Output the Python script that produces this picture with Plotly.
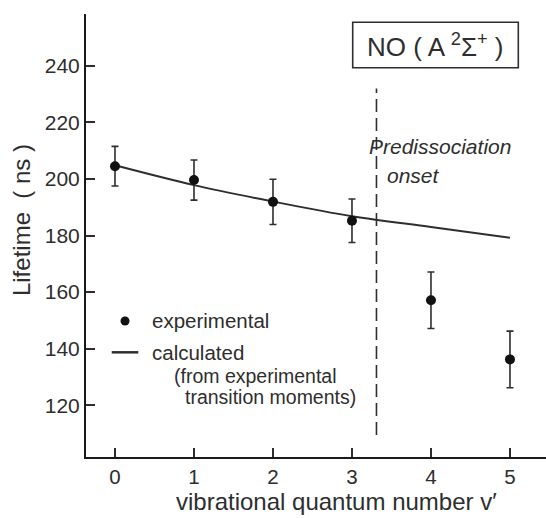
import plotly.graph_objects as go

# Vibrational levels of NO(A 2Sigma+) and radiative lifetimes (ns)
v_levels = [0, 1, 2, 3, 4, 5]
lifetime_exp = [204.5, 199.6, 191.9, 185.2, 157.1, 136.2]
lifetime_err = [7.0, 7.1, 8.0, 7.7, 10.0, 10.0]
lifetime_calc = [204.8, 197.8, 192.0, 186.8, 183.0, 179.2]
predissociation_v = 3.31
x_ticks = [0, 1, 2, 3, 4, 5]
y_ticks = [120, 140, 160, 180, 200, 220, 240]

FONT = "Liberation Sans, Arial, sans-serif"
INK = "#2e2e2e"

fig = go.Figure()

fig.add_trace(go.Scatter(
    x=v_levels, y=lifetime_calc, mode="lines",
    line=dict(color=INK, width=2, shape="spline"),
    name="calculated", showlegend=False,
))

fig.add_trace(go.Scatter(
    x=v_levels, y=lifetime_exp, mode="markers",
    marker=dict(color="#111111", size=10),
    error_y=dict(type="data", array=lifetime_err, visible=True,
                 color=INK, thickness=1.6, width=3.5),
    name="experimental", showlegend=False,
))

# Predissociation onset marker
fig.add_shape(type="line", xref="x", yref="y",
              x0=predissociation_v, x1=predissociation_v, y0=109.5, y1=232,
              line=dict(color=INK, width=1.6, dash="13px,6px"))

# Species label box
fig.add_shape(type="rect", xref="paper", yref="paper",
              x0=0.5798, x1=0.9398, y0=0.8788, y1=0.9813,
              line=dict(color=INK, width=1.6))
fig.add_annotation(xref="paper", yref="paper", x=0.7598, y=0.930,
                   text="NO ( A <sup>2</sup>Σ<sup>+</sup> )", showarrow=False,
                   font=dict(family=FONT, size=26, color=INK),
                   xanchor="center", yanchor="middle")

fig.add_annotation(xref="x", yref="y", x=3.184, y=211.4,
                   text="<i>Predissociation</i>", showarrow=False,
                   font=dict(family=FONT, size=21, color=INK),
                   xanchor="left", yanchor="middle")
fig.add_annotation(xref="x", yref="y", x=3.418, y=201.3,
                   text="<i>onset</i>", showarrow=False,
                   font=dict(family=FONT, size=21, color=INK),
                   xanchor="left", yanchor="middle")

# Key
fig.add_shape(type="circle", xref="paper", yref="paper",
              xsizemode="pixel", ysizemode="pixel",
              xanchor=0.0848, yanchor=0.307, x0=-4.5, x1=4.5, y0=-4.5, y1=4.5,
              fillcolor="#111111", line=dict(width=0))
fig.add_shape(type="line", xref="paper", yref="paper",
              x0=0.0559, x1=0.1137, y0=0.2363, y1=0.2363,
              line=dict(color=INK, width=2.5))
key_text = [
    ("experimental", 0.139, 0.307, 20.5),
    ("calculated", 0.139, 0.2363, 20.5),
    ("(from experimental", 0.1863, 0.1835, 19.5),
    ("transition moments)", 0.2102, 0.1348, 19.5),
]
for txt, kx, ky, ks in key_text:
    fig.add_annotation(xref="paper", yref="paper", x=kx, y=ky, text=txt,
                       showarrow=False, xanchor="left", yanchor="middle",
                       font=dict(family=FONT, size=ks, color=INK))

# Axis titles, placed as free text
fig.add_annotation(xref="paper", yref="paper", x=0.5435, y=-0.101,
                   text="vibrational quantum number v′", showarrow=False,
                   xanchor="center", yanchor="middle",
                   font=dict(family=FONT, size=24, color=INK))
fig.add_annotation(xref="paper", yref="paper", x=-0.139, y=0.535,
                   text="Lifetime  ( ns )", showarrow=False, textangle=-90,
                   xanchor="center", yanchor="middle",
                   font=dict(family=FONT, size=24, color=INK))

fig.update_xaxes(
    range=[-0.367, 5.456], tickvals=x_ticks,
    ticks="inside", ticklen=9, tickwidth=2, tickcolor=INK,
    showline=True, linecolor="#1a1a1a", linewidth=2,
    showgrid=False, zeroline=False,
    tickfont=dict(family=FONT, size=20.5, color=INK),
)
fig.update_yaxes(
    range=[101.7, 258.3], tickvals=y_ticks,
    ticks="inside", ticklen=9, tickwidth=2, tickcolor=INK,
    showline=True, linecolor="#1a1a1a", linewidth=2,
    showgrid=False, zeroline=False,
    tickfont=dict(family=FONT, size=21, color=INK),
)

fig.update_layout(
    width=546, height=518,
    margin=dict(l=86, r=0, t=14, b=61),
    paper_bgcolor="white", plot_bgcolor="white",
    showlegend=False,
)

fig.write_html("out.html")
